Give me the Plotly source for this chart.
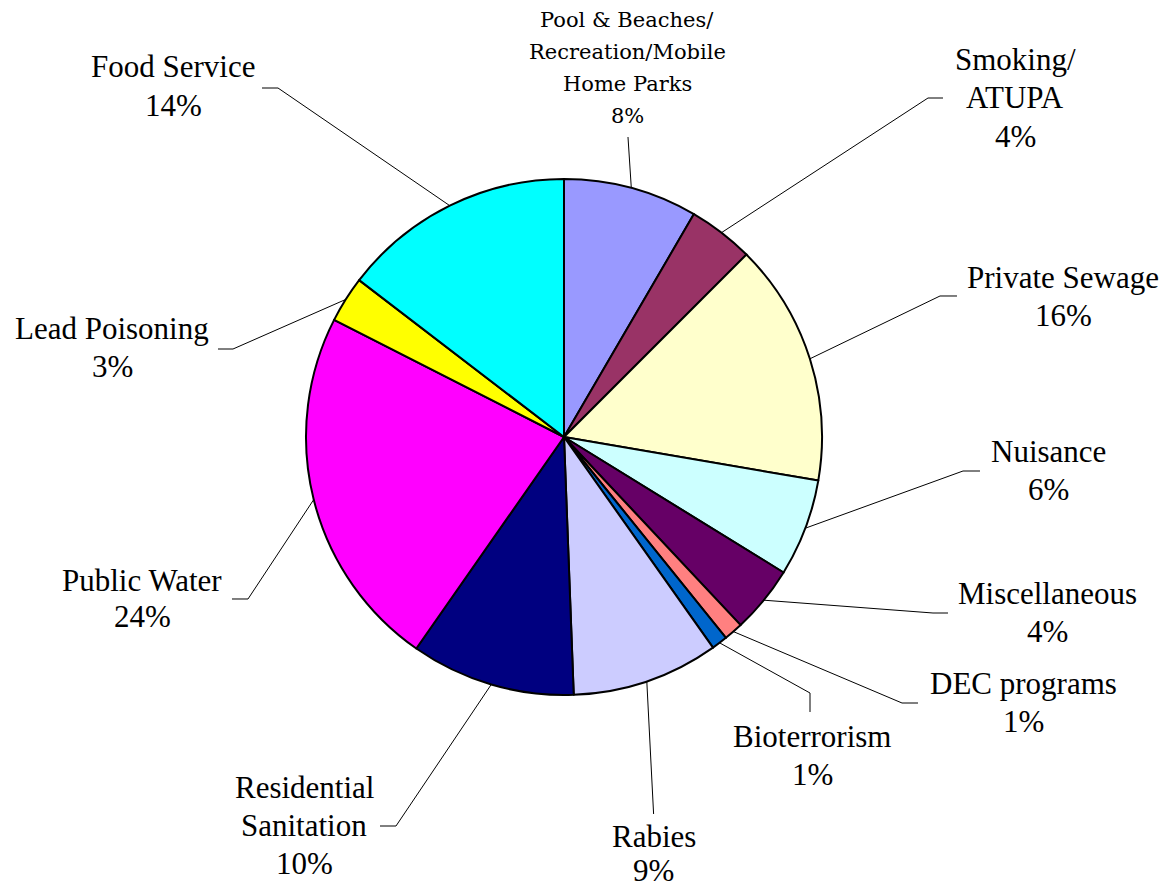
import math
import plotly.graph_objects as go

# ---------------- data ----------------
categories = ["Pool & Beaches/Recreation/Mobile Home Parks", "Smoking/ATUPA", "Private Sewage",
              "Nuisance", "Miscellaneous", "DEC programs", "Bioterrorism", "Rabies",
              "Residential Sanitation", "Public Water", "Lead Poisoning", "Food Service"]
values = [8.4, 4.1, 15.2, 6.1, 4.2, 1.2, 1.0, 9.2, 10.3, 22.8, 2.9, 14.6]
pct_labels = ["8%", "4%", "16%", "6%", "4%", "1%", "1%", "9%", "10%", "24%", "3%", "14%"]
label_lines = [["Pool & Beaches/", "Recreation/Mobile", "Home Parks"], ["Smoking/", "ATUPA"],
               ["Private Sewage"], ["Nuisance"], ["Miscellaneous"], ["DEC programs"],
               ["Bioterrorism"], ["Rabies"], ["Residential", "Sanitation"], ["Public Water"],
               ["Lead Poisoning"], ["Food Service"]]
colors = ["#9999FF", "#993366", "#FFFFCC", "#CCFFFF", "#660066", "#FF8080", "#0066CC",
          "#CCCCFF", "#000080", "#FF00FF", "#FFFF00", "#00FFFF"]

# ---------------- layout (window pixels) ----------------
W, H = 1168, 892
OFF = 8                      # default page body margin
FW, FH = W - OFF, H - OFF    # figure size
CX, CY, R = 564, 437, 258

# label placement: (center x, first line center y, line pitch, font family, font size)
label_pos = [
    (627, 20, 32, "DejaVu Serif", 21),
    (1015, 59, 38.5, "Liberation Serif", 31),
    (1063, 277, 38.5, "Liberation Serif", 31),
    (1048, 451, 38.5, "Liberation Serif", 31),
    (1047, 593, 38.5, "Liberation Serif", 31),
    (1023, 683, 38.5, "Liberation Serif", 31),
    (812, 736, 38, "Liberation Serif", 31),
    (654, 836, 34, "Liberation Serif", 31),
    (304, 787, 38, "Liberation Serif", 31),
    (142, 580, 36, "Liberation Serif", 31),
    (112, 328, 38.5, "Liberation Serif", 31),
    (173, 67, 38, "Liberation Serif", 31),
]
# leader-line points after the rim point
leader_pts = [
    [(628, 137)],
    [(928, 98), (943, 98)],
    [(940, 296), (957, 296)],
    [(963, 471), (980, 471)],
    [(933, 613), (948, 613)],
    [(902, 703), (918, 703)],
    [(810, 693), (810, 712)],
    [(653.6, 814)],
    [(396, 826), (380, 826)],
    [(248, 599), (232, 599)],
    [(233, 349), (218, 349)],
    [(278, 88), (262, 88)],
]


def px(x):
    return (x - OFF) / FW


def py(y):
    return 1 - (y - OFF) / FH


fig = go.Figure()
fig.add_trace(go.Pie(
    labels=categories, values=values, sort=False, direction="clockwise", rotation=0,
    marker=dict(colors=colors, line=dict(color="black", width=2)),
    textinfo="none", hoverinfo="skip", showlegend=False,
    domain=dict(x=[px(CX - R), px(CX + R)], y=[py(CY + R), py(CY - R)]),
))

total = sum(values)
cum = 0.0
shapes = []
annotations = []
for i, v in enumerate(values):
    mid = (cum + v / 2) / total * 2 * math.pi
    cum += v
    rx = CX + R * math.sin(mid)
    ry = CY - R * math.cos(mid)
    pts = [(rx, ry)] + leader_pts[i]
    path = "M " + " L ".join(f"{px(x):.5f},{py(y):.5f}" for x, y in pts)
    shapes.append(dict(type="path", xref="paper", yref="paper", path=path,
                       line=dict(color="black", width=1)))
    lx, ly, pitch, fam, size = label_pos[i]
    lines = label_lines[i] + [pct_labels[i]]
    for j, t in enumerate(lines):
        annotations.append(dict(
            x=px(lx), y=py(ly + j * pitch), xref="paper", yref="paper",
            text=t, showarrow=False, xanchor="center", yanchor="middle",
            font=dict(family=fam, size=size, color="black"),
        ))

fig.update_layout(
    width=FW, height=FH, margin=dict(l=0, r=0, t=0, b=0),
    paper_bgcolor="white", plot_bgcolor="white",
    shapes=shapes, annotations=annotations,
)
fig.write_html("out.html")
